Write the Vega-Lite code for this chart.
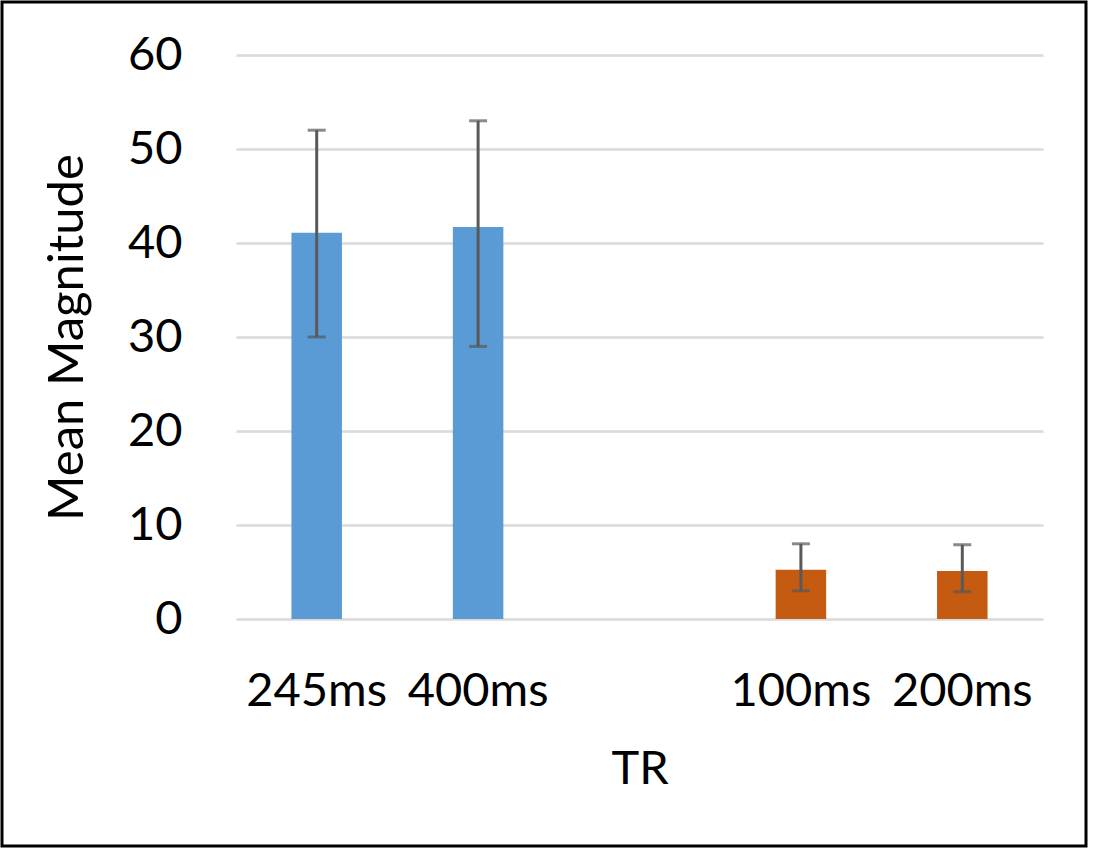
{
  "$schema": "https://vega.github.io/schema/vega-lite/v6.json",
  "autosize": {"type": "none"},
  "padding": {"left": 2, "top": 2, "right": 12, "bottom": 11},
  "width": 1084,
  "height": 844,
  "background": "white",
  "config": {
    "view": {"stroke": "black", "strokeWidth": 3},
    "font": "Lato",
    "axis": {"labelFont": "Lato", "titleFont": "Lato", "labelColor": "black", "titleColor": "black", "labelFontWeight": "normal", "titleFontWeight": "normal"}
  },
  "data": {
    "values": [
      {"TR": "245ms", "mean": 41.1, "low": 30.0, "high": 52.0, "group": "A"},
      {"TR": "400ms", "mean": 41.7, "low": 29.0, "high": 53.0, "group": "A"},
      {"TR": "100ms", "mean": 5.25, "low": 3.0, "high": 8.0, "group": "B"},
      {"TR": "200ms", "mean": 5.1, "low": 2.9, "high": 7.9, "group": "B"}
    ]
  },
  "encoding": {
    "x": {
      "field": "TR",
      "type": "nominal",
      "sort": null,
      "scale": {"domain": ["245ms", "400ms", " ", "100ms", "200ms"], "range": [234, 1041], "paddingInner": 0.687, "paddingOuter": 0.3435},
      "axis": {
        "title": "TR",
        "orient": "bottom",
        "offset": -227,
        "domain": false,
        "ticks": false,
        "tickSize": 0,
        "grid": false,
        "labelAngle": 0,
        "labelFontSize": 47,
        "labelPadding": 49,
        "labelBaseline": "top",
        "labelOverlap": false,
        "titleFontSize": 47,
        "titleBaseline": "top",
        "titleY": 127
      }
    }
  },
  "layer": [
    {
      "mark": {"type": "bar"},
      "encoding": {
        "y": {
          "field": "mean",
          "type": "quantitative",
          "scale": {"domain": [0, 60], "range": [617, 53], "nice": false, "zero": true},
          "axis": {
            "title": "Mean Magnitude",
            "orient": "left",
            "offset": -180,
            "domain": false,
            "ticks": false,
            "tickSize": 0,
            "labelPadding": 0,
            "values": [0, 10, 20, 30, 40, 50, 60],
            "labelFontSize": 47,
            "grid": true,
            "gridColor": "#d9d9d9",
            "gridWidth": 2.5,
            "titleFontSize": 49,
            "titleAngle": -90,
            "titleBaseline": "bottom",
            "titleX": -90
          }
        },
        "color": {
          "field": "group",
          "type": "nominal",
          "scale": {"domain": ["A", "B"], "range": ["#5B9BD5", "#C55A11"]},
          "legend": null
        }
      }
    },
    {
      "mark": {"type": "rule", "color": "#595959", "strokeWidth": 3},
      "encoding": {
        "y": {"field": "low", "type": "quantitative"},
        "y2": {"field": "high"}
      }
    },
    {
      "mark": {"type": "tick", "color": "#595959", "thickness": 3, "size": 18, "orient": "horizontal"},
      "encoding": {
        "y": {"field": "low", "type": "quantitative"}
      }
    },
    {
      "mark": {"type": "tick", "color": "#595959", "thickness": 3, "size": 18, "orient": "horizontal"},
      "encoding": {
        "y": {"field": "high", "type": "quantitative"}
      }
    }
  ]
}
